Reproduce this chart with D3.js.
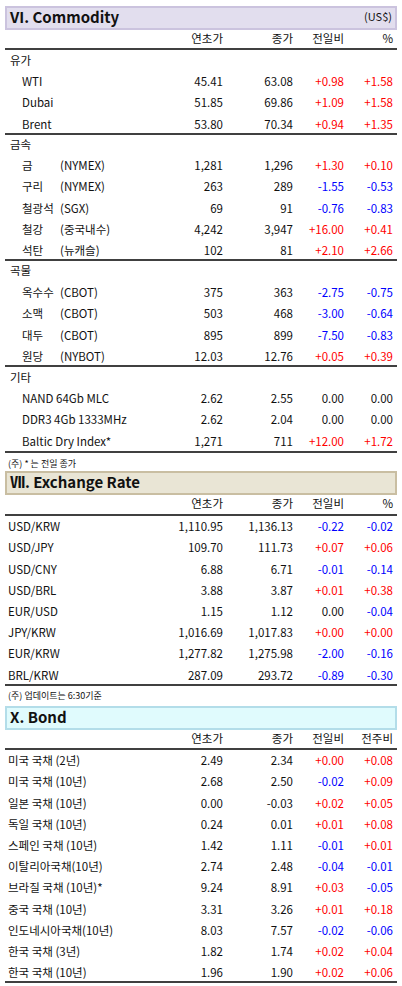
<!DOCTYPE html><html><head><meta charset="utf-8"><script src="https://cdn.jsdelivr.net/npm/d3@7"></script>
<style>body{margin:0;background:#fff}</style></head><body><svg id="c" width="402" height="986"></svg>
<script>
const oilNames=["WTI","Dubai","Brent"];
const oilVals=[[45.41,63.08,0.98,1.58],[51.85,69.86,1.09,1.58],[53.80,70.34,0.94,1.35]];
const metalNames=[["금","(NYMEX)"],["구리","(NYMEX)"],["철광석","(SGX)"],["철강","(중국내수)"],["석탄","(뉴캐슬)"]];
const metalVals=[[1281,1296,1.30,0.10],[263,289,-1.55,-0.53],[69,91,-0.76,-0.83],[4242,3947,16.00,0.41],[102,81,2.10,2.66]];
const grainNames=[["옥수수","(CBOT)"],["소맥","(CBOT)"],["대두","(CBOT)"],["원당","(NYBOT)"]];
const grainVals=[[375,363,-2.75,-0.75],[503,468,-3.00,-0.64],[895,899,-7.50,-0.83],[12.03,12.76,0.05,0.39]];
const etcNames=["NAND 64Gb MLC","DDR3 4Gb 1333MHz","Baltic Dry Index*"];
const etcVals=[[2.62,2.55,0,0],[2.62,2.04,0,0],[1271,711,12.00,1.72]];
const fxNames=["USD/KRW","USD/JPY","USD/CNY","USD/BRL","EUR/USD","JPY/KRW","EUR/KRW","BRL/KRW"];
const fxVals=[[1110.95,1136.13,-0.22,-0.02],[109.70,111.73,0.07,0.06],[6.88,6.71,-0.01,-0.14],[3.88,3.87,0.01,0.38],[1.15,1.12,0.00,-0.04],[1016.69,1017.83,0.00,0.00],[1277.82,1275.98,-2.00,-0.16],[287.09,293.72,-0.89,-0.30]];
const fxSign=[[-1,-1],[1,1],[-1,-1],[1,1],[0,-1],[1,1],[-1,-1],[-1,-1]];
const bondNames=["미국 국채 (2년)","미국 국채 (10년)","일본 국채 (10년)","독일 국채 (10년)","스페인 국채 (10년)","이탈리아국채(10년)","브라질 국채 (10년)*","중국 국채 (10년)","인도네시아국채(10년)","한국 국채 (3년)","한국 국채 (10년)"];
const bondVals=[[2.49,2.34,0.00,0.08],[2.68,2.50,-0.02,0.09],[0.00,-0.03,0.02,0.05],[0.24,0.01,0.01,0.08],[1.42,1.11,-0.01,0.01],[2.74,2.48,-0.04,-0.01],[9.24,8.91,0.03,-0.05],[3.31,3.26,0.01,0.18],[8.03,7.57,-0.02,-0.06],[1.82,1.74,0.02,0.04],[1.96,1.90,0.02,0.06]];
const bondSign=[[1,1],[-1,1],[1,1],[1,1],[-1,1],[-1,-1],[1,-1],[1,1],[-1,-1],[1,1],[1,1]];
const colHead=["연초가","종가","전일비","%"];
const bondHead=["연초가","종가","전일비","전주비"];

const svg=d3.select("#c");
const F="'Noto Sans CJK KR','Noto Sans',sans-serif";
const colX=d3.scaleOrdinal().domain([0,1,2,3]).range([223,293,344,393]);
const RED="#ff0000",BLUE="#0000ff";
function t(x,y,s,o={}){return svg.append("text").attr("x",x).attr("y",y+2).attr("font-family",F).attr("font-size",o.fs||11.5).attr("fill",o.c||"#111").attr("text-anchor",o.a||"start").attr("font-weight",o.w||"normal").attr("dominant-baseline","middle").text(s);}
function line(y){svg.append("line").attr("x1",5).attr("x2",397).attr("y1",y).attr("y2",y).attr("stroke","#000").attr("stroke-width",1.3);}
function box(y,title,fill,stroke,right){svg.append("rect").attr("x",6).attr("y",y).attr("width",390).attr("height",22).attr("fill",fill).attr("stroke",stroke).attr("stroke-width",2);
 t(10,y+9.5,title,{fs:15,w:"bold"});if(right)t(392,y+9.5,right,{fs:11,a:"end"});}
const hy=s=>s.replace("\u2212","-");
function fmtChg(v,sg){const s=d3.format(".2f")(Math.abs(v));if(sg===0||(sg==null&&v===0))return s;const neg=sg!=null?sg<0:v<0;return (neg?"-":"+")+s;}
function colChg(v,sg){if(sg===0||(sg==null&&v===0))return "#111";const neg=sg!=null?sg<0:v<0;return neg?BLUE:RED;}
function rows(y0,names,vals,lx,signs,intCols){
 names.forEach((n,r)=>{const y=y0+r*21.2;
  if(Array.isArray(n)){t(lx,y,n[0]);t(60,y,n[1]);}else t(lx,y,n);
  vals[r].forEach((v,i)=>{let s,c="#111";
   if(i<2)s=hy(intCols&&intCols[r]?d3.format(",")(v):d3.format(",.2f")(v));
   else{const sg=signs?signs[r][i-2]:null;s=fmtChg(v,sg);c=colChg(v,sg);}
   t(colX(i),y,s,{a:"end",c});});});}
box(7,"VI. Commodity","#e2deee","#cbc3de","(US$)");
colHead.forEach((h,i)=>t(colX(i),38,h,{a:"end"}));
line(49);
t(10,60,"유가");rows(81,oilNames,oilVals,22);
line(134);t(10,144,"금속");rows(165,metalNames,metalVals,22,null,[1,1,1,1,1]);
line(260);t(10,270,"곡물");rows(292,grainNames,grainVals,22,null,[1,1,1,0]);
line(366);t(10,377,"기타");rows(398,etcNames,etcVals,22,null,[0,0,1]);
line(452);t(8,463,"(주) * 는 전일 종가",{fs:9});
box(472,"Ⅶ. Exchange Rate","#e9e5d5","#c9bea2");
colHead.forEach((h,i)=>t(colX(i),503,h,{a:"end"}));
line(515);rows(526,fxNames,fxVals,8,fxSign);
line(685);t(8,695,"(주) 업데이트는 6:30기준",{fs:9});
box(707,"X. Bond","#e0fbfd","#b3dde9");
bondHead.forEach((h,i)=>t(colX(i),738,h,{a:"end"}));
line(749);rows(760,bondNames,bondVals,8,bondSign);
line(982);
</script></body></html>
